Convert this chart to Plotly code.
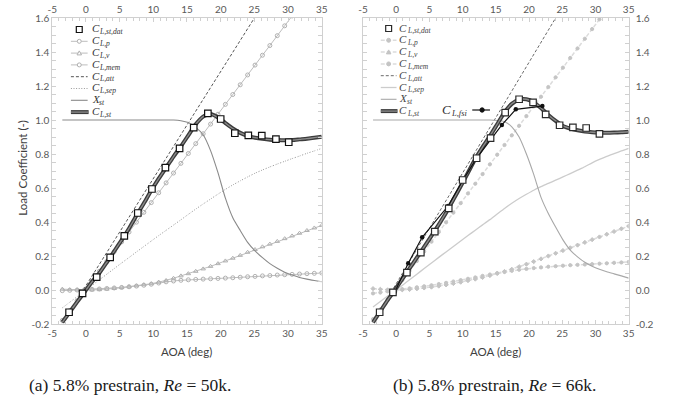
import plotly.graph_objects as go

W, H = 675, 408
PLOT_TOP, PLOT_BOT = 18, 324

# ---------------- data ----------------
aoa = [-3.5, -2.4, -1.3, -0.2, 0.9, 2.0, 3.1, 4.2, 5.3, 6.4, 7.5, 8.6, 9.7, 10.8, 11.9,
       13.0, 14.1, 15.2, 16.3, 17.4, 18.5, 19.6, 20.7, 21.8, 22.9, 24.0, 25.1, 26.2,
       27.3, 28.4, 29.5, 30.6, 31.7, 32.8, 33.9, 35.0]

# (a) Re = 50k
a_cl_p = [-0.179, -0.121, -0.063, -0.006, 0.052, 0.110, 0.168, 0.226, 0.283, 0.341, 0.399,
          0.457, 0.514, 0.572, 0.630, 0.688, 0.745, 0.803, 0.861, 0.919, 0.976, 1.034,
          1.092, 1.150, 1.207, 1.265, 1.323, 1.381, 1.438, 1.496, 1.554, 1.612]
a_cl_v = [0.005, 0.002, 0.001, 0.0, 0.0, 0.002, 0.005, 0.009, 0.014, 0.019, 0.025, 0.031,
          0.037, 0.046, 0.056, 0.069, 0.083, 0.096, 0.110, 0.124, 0.139, 0.155, 0.171,
          0.187, 0.204, 0.222, 0.238, 0.254, 0.270, 0.286, 0.302, 0.318, 0.334, 0.350,
          0.365, 0.380]
a_cl_mem = [-0.004, -0.002, 0.0, 0.002, 0.004, 0.006, 0.009, 0.012, 0.015, 0.019, 0.023,
            0.028, 0.034, 0.041, 0.048, 0.053, 0.057, 0.060, 0.062, 0.064, 0.066, 0.068,
            0.070, 0.072, 0.075, 0.078, 0.080, 0.083, 0.085, 0.088, 0.090, 0.092, 0.094,
            0.096, 0.098, 0.100]
a_att_aoa = [-3.5, 25.0]
a_cl_att = [-0.195, 1.6]
a_cl_sep = [-0.105, -0.072, -0.039, -0.006, 0.027, 0.060, 0.093, 0.126, 0.159, 0.191,
            0.224, 0.256, 0.288, 0.320, 0.351, 0.382, 0.413, 0.445, 0.476, 0.506, 0.535,
            0.564, 0.592, 0.618, 0.642, 0.665, 0.687, 0.706, 0.724, 0.741, 0.757, 0.773,
            0.788, 0.804, 0.818, 0.833]
a_x_st = [1.0] * 16 + [0.996, 0.985, 0.957, 0.913, 0.820, 0.690, 0.540, 0.425, 0.350,
                        0.280, 0.230, 0.190, 0.155, 0.128, 0.105, 0.088, 0.074, 0.064,
                        0.056, 0.049]
a_cl_st = [-0.190, -0.130, -0.070, -0.012, 0.048, 0.100, 0.163, 0.228, 0.293, 0.362,
           0.438, 0.510, 0.585, 0.655, 0.720, 0.785, 0.845, 0.910, 0.975, 1.020, 1.035,
           1.015, 0.982, 0.950, 0.924, 0.907, 0.896, 0.889, 0.884, 0.882, 0.881, 0.882,
           0.886, 0.890, 0.896, 0.902]
a_dat_aoa = [-2.5, -0.5, 1.6, 3.6, 5.7, 7.7, 9.8, 11.8, 13.9, 16.0, 18.1, 20.0, 22.1,
             24.1, 26.1, 28.2, 30.1]
a_dat_cl = [-0.131, -0.020, 0.076, 0.192, 0.318, 0.453, 0.594, 0.720, 0.833, 0.955,
            1.039, 1.006, 0.922, 0.910, 0.908, 0.888, 0.869]

# (b) Re = 66k
b_cl_p = [-0.171, -0.114, -0.057, 0.0, 0.057, 0.113, 0.170, 0.227, 0.284, 0.341, 0.398,
          0.455, 0.511, 0.568, 0.625, 0.682, 0.739, 0.796, 0.853, 0.910, 0.966, 1.023,
          1.080, 1.137, 1.194, 1.251, 1.308, 1.365, 1.421, 1.478, 1.535, 1.592]
b_cl_v = [0.008, 0.004, 0.001, 0.0, 0.001, 0.003, 0.007, 0.012, 0.017, 0.023, 0.030,
          0.038, 0.046, 0.055, 0.064, 0.074, 0.085, 0.097, 0.109, 0.122, 0.137, 0.152,
          0.167, 0.183, 0.200, 0.216, 0.232, 0.248, 0.264, 0.280, 0.296, 0.312, 0.328,
          0.344, 0.360, 0.376]
b_cl_mem = [-0.020, -0.015, -0.008, 0.0, 0.005, 0.010, 0.016, 0.022, 0.028, 0.035, 0.042,
            0.050, 0.058, 0.066, 0.074, 0.083, 0.091, 0.099, 0.106, 0.113, 0.119, 0.124,
            0.129, 0.133, 0.137, 0.140, 0.143, 0.146, 0.148, 0.150, 0.152, 0.155, 0.157,
            0.160, 0.162, 0.165]
b_att_aoa = [-3.5, 24.0]
b_cl_att = [-0.19, 1.6]
b_cl_sep = [-0.100, -0.068, -0.036, -0.005, 0.027, 0.060, 0.093, 0.126, 0.159, 0.192,
            0.224, 0.256, 0.288, 0.320, 0.352, 0.383, 0.414, 0.447, 0.480, 0.510, 0.538,
            0.563, 0.587, 0.608, 0.627, 0.646, 0.665, 0.685, 0.705, 0.725, 0.748, 0.768,
            0.786, 0.802, 0.818, 0.833]
b_x_st = [1.0] * 17 + [0.997, 0.990, 0.960, 0.900, 0.800, 0.680, 0.545, 0.450, 0.370,
                        0.295, 0.235, 0.195, 0.163, 0.140, 0.122, 0.107, 0.095, 0.083,
                        0.070]
b_cl_st = [-0.190, -0.125, -0.060, 0.0, 0.064, 0.127, 0.190, 0.253, 0.318, 0.385, 0.455,
           0.532, 0.610, 0.690, 0.770, 0.840, 0.905, 0.975, 1.045, 1.095, 1.120, 1.122,
           1.105, 1.070, 1.030, 0.995, 0.965, 0.950, 0.940, 0.932, 0.928, 0.926, 0.925,
           0.926, 0.928, 0.931]
b_dat_aoa = [-2.5, -0.5, 1.6, 3.7, 5.8, 7.9, 10.0, 12.1, 14.2, 16.4, 18.5, 20.6, 22.5,
             24.6, 26.6, 28.6, 30.6]
b_dat_cl = [-0.131, -0.014, 0.102, 0.220, 0.343, 0.480, 0.647, 0.775, 0.893, 1.043,
            1.122, 1.104, 1.033, 0.969, 0.957, 0.953, 0.918]
fsi_aoa = [-0.2, 1.8, 3.9, 7.8, 10.0, 12.0, 15.9, 18.0, 22.0]
fsi_cl = [-0.01, 0.157, 0.310, 0.494, 0.643, 0.770, 0.971, 1.063, 1.082]

x_tickvals = [-5, 0, 5, 10, 15, 20, 25, 30, 35]
x_ticktext = ["-5", "0", "5", "10", "15", "20", "25", "30", "35"]
y_tickvals = [-0.2, 0.0, 0.2, 0.4, 0.6, 0.8, 1.0, 1.2, 1.4, 1.6]
y_ticktext = ["-0.2", "0.0", "0.2", "0.4", "0.6", "0.8", "1.0", "1.2", "1.4", "1.6"]

# legend symbols: main letter + subscript
legend_main = ["C", "C", "C", "C", "C", "C", "X", "C"]
legend_sub = ["L,st,dat", "L,p", "L,v", "L,mem", "L,att", "L,sep", "st", "L,st"]
fsi_main, fsi_sub = "C", "L,fsi"
captions = ["(a) 5.8% prestrain, <i>Re</i> = 50k.", "(b) 5.8% prestrain, <i>Re</i> = 66k."]

# ---------------- figure ----------------
fig = go.Figure()


def add_panel(xa, ya, s):
    light = s["light"]
    n_p = len(s["cl_p"])
    for xs, ys, sym in [(aoa[:n_p], s["cl_p"], s["sym_c"]), (aoa, s["cl_v"], s["sym_t"]),
                        (aoa, s["cl_mem"], s["sym_c"])]:
        fig.add_trace(go.Scatter(x=xs, y=ys, xaxis=xa, yaxis=ya, mode="lines+markers",
                                 line=dict(color=light, width=s["mw"], dash=s["mdash"]),
                                 marker=dict(symbol=sym, size=s["msize"], color=s["mcol"],
                                             line=dict(color=s["mcol"], width=1))))
    fig.add_trace(go.Scatter(x=s["att_aoa"], y=s["cl_att"], xaxis=xa, yaxis=ya, mode="lines",
                             line=dict(color=s["att_col"], width=1, dash="3px,2px")))
    fig.add_trace(go.Scatter(x=aoa, y=s["cl_sep"], xaxis=xa, yaxis=ya, mode="lines",
                             line=dict(color=s["sep_col"], width=s["sep_w"], dash=s["sep_dash"],
                                       shape="spline", smoothing=0.6)))
    fig.add_trace(go.Scatter(x=aoa, y=s["x_st"], xaxis=xa, yaxis=ya, mode="lines",
                             line=dict(color=s["xst_col"], width=1.1, shape="spline",
                                       smoothing=0.6)))
    fig.add_trace(go.Scatter(x=aoa, y=s["cl_st"], xaxis=xa, yaxis=ya, mode="lines",
                             line=dict(color="#3c3c3c", width=4, shape="spline", smoothing=0.6)))
    fig.add_trace(go.Scatter(x=aoa, y=s["cl_st"], xaxis=xa, yaxis=ya, mode="lines",
                             line=dict(color="#8c8c8c", width=1.3, shape="spline", smoothing=0.6)))
    if s.get("fsi"):
        fig.add_trace(go.Scatter(x=fsi_aoa, y=fsi_cl, xaxis=xa, yaxis=ya, mode="lines+markers",
                                 line=dict(color="#111111", width=1.2),
                                 marker=dict(symbol="circle", size=4.5, color="#111111")))
    fig.add_trace(go.Scatter(x=s["dat_aoa"], y=s["dat_cl"], xaxis=xa, yaxis=ya, mode="markers",
                             marker=dict(symbol="square", size=6.5, color="white",
                                         line=dict(color=s["dat_col"], width=1.2))))


style_a = dict(light="#bdbdbd", mcol="#b0b0b0", mfill="white", mw=1, mdash="solid",
               msize=4, sym_c="circle-open", sym_t="triangle-up-open", att_col="#555555",
               sep_col="#9a9a9a", sep_w=1, sep_dash="1px,1.6px", xst_col="#8a8a8a",
               dat_col="#111111", txt="#333333")
style_b = dict(light="#dcdcdc", mcol="#c4c4c4", mfill="#c4c4c4", mw=1.5, mdash="4px,2px",
               msize=3.2, sym_c="circle", sym_t="diamond", att_col="#6a6a6a",
               sep_col="#cccccc", sep_w=1.3, sep_dash="solid", xst_col="#a8a8a8",
               dat_col="#2a2a2a", txt="#444444", fsi=True)

add_panel("x", "y", dict(cl_p=a_cl_p, cl_v=a_cl_v, cl_mem=a_cl_mem, att_aoa=a_att_aoa,
                         cl_att=a_cl_att, cl_sep=a_cl_sep, x_st=a_x_st, cl_st=a_cl_st,
                         dat_aoa=a_dat_aoa, dat_cl=a_dat_cl, **style_a))
add_panel("x2", "y2", dict(cl_p=b_cl_p, cl_v=b_cl_v, cl_mem=b_cl_mem, att_aoa=b_att_aoa,
                           cl_att=b_cl_att, cl_sep=b_cl_sep, x_st=b_x_st, cl_st=b_cl_st,
                           dat_aoa=b_dat_aoa, dat_cl=b_dat_cl, **style_b))

# placeholders so the mirrored top axes get drawn
fig.add_trace(go.Scatter(x=[None], y=[None], xaxis="x3", yaxis="y", showlegend=False))
fig.add_trace(go.Scatter(x=[None], y=[None], xaxis="x4", yaxis="y2", showlegend=False))

tick_font = dict(family="Lato, Open Sans, sans-serif", size=10, color="#595959")
ax_col = "#d0d0d0"
xdom_a = [48 / W, 322 / W]
xdom_b = [364 / W, 634 / W]

xcommon = dict(range=[-5, 35], tickvals=x_tickvals, ticktext=x_ticktext, showgrid=False,
               zeroline=False, showline=True, linecolor=ax_col, linewidth=1, ticks="inside",
               ticklen=4, tickcolor=ax_col, tickfont=tick_font,
               minor=dict(ticks="inside", ticklen=3, dtick=1, tickcolor=ax_col, showgrid=False))
ycommon = dict(range=[-0.2, 1.6], tickvals=y_tickvals, ticktext=y_ticktext, showgrid=False,
               zeroline=False, showline=True, linecolor=ax_col, linewidth=1, ticks="inside",
               ticklen=4, tickcolor=ax_col, tickfont=tick_font, mirror="allticks",
               minor=dict(ticks="inside", ticklen=3, dtick=0.05, tickcolor=ax_col,
                          showgrid=False), domain=[0, 1])

fig.update_layout(
    width=W, height=H, margin=dict(l=0, r=0, t=PLOT_TOP, b=H - PLOT_BOT),
    paper_bgcolor="white", plot_bgcolor="white", showlegend=False,
    xaxis=dict(domain=xdom_a, anchor="y", side="bottom", **xcommon),
    xaxis3=dict(overlaying="x", matches="x", anchor="y", side="top", **xcommon),
    yaxis=dict(anchor="x", side="left", **ycommon),
    xaxis2=dict(domain=xdom_b, anchor="y2", side="bottom", **xcommon),
    xaxis4=dict(overlaying="x2", matches="x2", anchor="y2", side="top", **xcommon),
    yaxis2=dict(anchor="x2", side="right", ticklabelstandoff=4, **ycommon),
)


def px(x):
    return x / W


def py(y):
    return (PLOT_BOT - y) / (PLOT_BOT - PLOT_TOP)


shapes = []
annots = []
serif = "Liberation Serif, DejaVu Serif, serif"


def symbol_text(main, sub, x, y, color, size_main, size_sub, gap):
    annots.append(dict(text="<i>" + main + "</i>", x=px(x), y=py(y), xref="paper",
                       yref="paper", xanchor="left", yanchor="middle", showarrow=False,
                       borderpad=0, font=dict(family=serif, size=size_main, color=color)))
    annots.append(dict(text="<i>" + sub + "</i>", x=px(x + gap), y=py(y + size_main * 0.3),
                       xref="paper", yref="paper", xanchor="left", yanchor="middle",
                       showarrow=False, borderpad=0,
                       font=dict(family=serif, size=size_sub, color=color)))


def hline(x0, x1, y, color, width, dash="solid"):
    shapes.append(dict(type="line", xref="paper", yref="paper", x0=px(x0), x1=px(x1),
                       y0=py(y), y1=py(y), line=dict(color=color, width=width, dash=dash)))


def legend_block(x0, x1, xt, rows, st):
    xc = (x0 + x1) / 2
    r = 2.0
    y = rows[0]
    shapes.append(dict(type="rect", xref="paper", yref="paper", x0=px(xc - 3), x1=px(xc + 3),
                       y0=py(y + 3), y1=py(y - 3), fillcolor="white",
                       line=dict(color=st["dat_col"], width=1.2)))
    for k, kind in zip([1, 2, 3], ["c", "t", "c"]):
        y = rows[k]
        hline(x0, x1, y, st["light"], st["mw"], st["mdash"])
        if kind == "c":
            shapes.append(dict(type="circle", xref="paper", yref="paper", x0=px(xc - r),
                               x1=px(xc + r), y0=py(y + r), y1=py(y - r),
                               fillcolor=st["mfill"], line=dict(color=st["mcol"], width=1)))
        else:
            path = "M {},{} L {},{} L {},{} Z".format(px(xc - 2.3), py(y + 1.8), px(xc + 2.3),
                                                      py(y + 1.8), px(xc), py(y - 2.2))
            shapes.append(dict(type="path", xref="paper", yref="paper", path=path,
                               fillcolor=st["mfill"], line=dict(color=st["mcol"], width=1)))
    hline(x0, x1, rows[4], st["att_col"], 1, "3px,2px")
    hline(x0, x1, rows[5], st["sep_col"], st["sep_w"], st["sep_dash"])
    hline(x0, x1, rows[6], st["xst_col"], 1.1)
    hline(x0, x1 + 1, rows[7], "#3c3c3c", 4)
    hline(x0, x1 + 1, rows[7], "#8c8c8c", 1.3)
    for m, sb, y in zip(legend_main, legend_sub, rows):
        symbol_text(m, sb, xt, y - 1, st["txt"], 11, 7.5, 7.5 if m == "C" else 7.2)


rows_a = [29.5 + 11.8 * i for i in range(8)]
rows_b = [28.5 + 11.8 * i for i in range(8)]
legend_block(67, 84, 87, rows_a, style_a)
legend_block(382, 398, 400, rows_b, style_b)

# C_L,fsi key
hline(475, 493, 110, "#111111", 1.2)
shapes.append(dict(type="circle", xref="paper", yref="paper", x0=px(482.8), x1=px(487.2),
                   y0=py(112.2), y1=py(107.8), fillcolor="#111111",
                   line=dict(color="#111111", width=1)))
symbol_text(fsi_main, fsi_sub, 443, 109, "#333333", 13, 8.5, 9)

# axis titles
title_font = dict(family="Lato, Open Sans, sans-serif", size=11.5, color="#404040")
for xc in [185, 499]:
    annots.append(dict(text="AOA (deg)", x=px(xc), y=py(352), xref="paper", yref="paper",
                       xanchor="center", yanchor="middle", showarrow=False, font=title_font))
annots.append(dict(text="Load Coefficient (-)", x=px(17), y=py(168), xref="paper",
                   yref="paper", xanchor="center", yanchor="middle", textangle=-90,
                   showarrow=False, font=title_font))

# captions
for cap, xc in zip(captions, [127, 498]):
    annots.append(dict(text=cap, x=px(xc), y=py(385), xref="paper", yref="paper",
                       xanchor="center", yanchor="middle", showarrow=False,
                       font=dict(family=serif, size=17.5, color="#1a1a1a")))

fig.update_layout(shapes=shapes, annotations=annots)
fig.write_html("out.html")
